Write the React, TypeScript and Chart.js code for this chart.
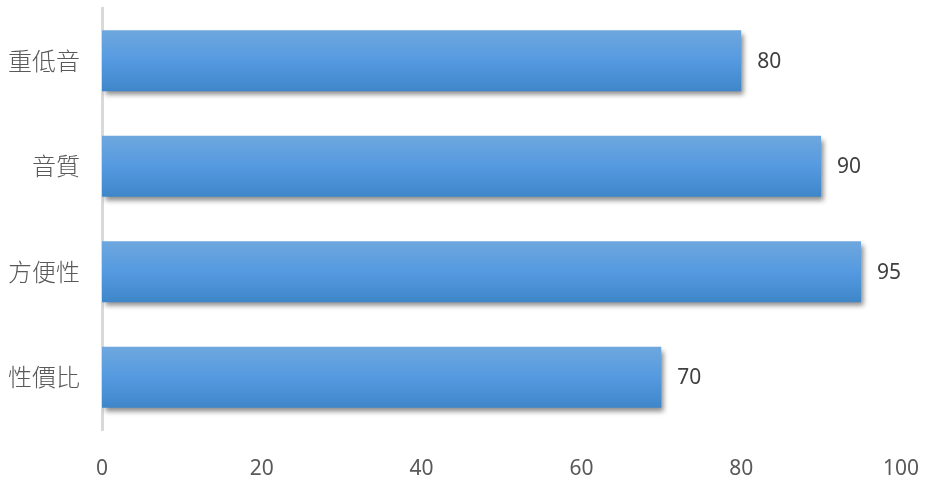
import React, { useEffect, useRef } from "react";
import { Chart, registerables } from "chart.js";

Chart.register(...registerables);

const categories = ["重低音", "音質", "方便性", "性價比"];
const values = [80, 90, 95, 70];
const xTicks = [0, 20, 40, 60, 80, 100];

const BAR_PCT = 0.58;

const shadowPlugin = {
  id: "barShadow",
  beforeDatasetsDraw(chart: any) {
    const ctx = chart.ctx;
    ctx.save();
    ctx.shadowColor = "rgba(0,0,0,0.45)";
    ctx.shadowBlur = 5;
    ctx.shadowOffsetX = 3;
    ctx.shadowOffsetY = 4;
  },
  afterDatasetsDraw(chart: any) {
    chart.ctx.restore();
  },
};

const labelPlugin = {
  id: "valueLabels",
  afterDatasetsDraw(chart: any) {
    const ctx = chart.ctx;
    const meta = chart.getDatasetMeta(0);
    ctx.save();
    ctx.shadowColor = "transparent";
    ctx.font = "21px 'Noto Sans', 'Open Sans', sans-serif";
    ctx.fillStyle = "#404040";
    ctx.textAlign = "left";
    ctx.textBaseline = "middle";
    meta.data.forEach((el: any, i: number) => {
      ctx.fillText(String(values[i]), el.x + 16, el.y + 1);
    });
    ctx.restore();
  },
};

export default function App() {
  const ref = useRef<HTMLCanvasElement>(null);
  useEffect(() => {
    document.body.style.margin = "0";
    const chart = new Chart(ref.current!, {
      type: "bar",
      data: {
        labels: categories,
        datasets: [
          {
            data: values,
            backgroundColor: (c: any) => {
              const chart = c.chart;
              const area = chart.chartArea;
              if (!area || !chart.scales.y) return "#5597d9";
              const center = chart.scales.y.getPixelForValue(c.dataIndex);
              const half = ((area.bottom - area.top) / categories.length) * BAR_PCT / 2;
              const g = chart.ctx.createLinearGradient(0, center - half, 0, center + half);
              g.addColorStop(0, "#6ea7de");
              g.addColorStop(0.5, "#559ae0");
              g.addColorStop(1, "#3f86c9");
              return g;
            },
            borderWidth: 0,
            categoryPercentage: 1,
            barPercentage: BAR_PCT,
          },
        ],
      },
      options: {
        indexAxis: "y",
        animation: false,
        responsive: false,
        maintainAspectRatio: false,
        layout: { padding: { top: 8, right: 34, bottom: 0, left: 0 } },
        plugins: { legend: { display: false }, tooltip: { enabled: false } },
        scales: {
          x: {
            min: 0,
            max: 100,
            afterBuildTicks: (s: any) => {
              s.ticks = xTicks.map((v) => ({ value: v }));
            },
            afterFit: (s: any) => {
              s.height = 63;
            },
            grid: { display: false },
            border: { display: false },
            ticks: {
              padding: 18,
              color: "#595959",
              font: { family: "'Noto Sans', 'Open Sans', sans-serif", size: 21 },
            },
          },
          y: {
            afterFit: (s: any) => {
              s.width = 102;
              s.paddingTop = 0;
              s.paddingBottom = 0;
            },
            grid: { display: false },
            border: { display: true, color: "#d9d9d9", width: 3 },
            ticks: {
              padding: 14,
              color: "#595959",
              font: { family: "'Noto Sans CJK TC', sans-serif", size: 24, weight: "300" },
            },
          },
        },
      },
      plugins: [shadowPlugin, labelPlugin],
    } as any);
    return () => chart.destroy();
  }, []);
  return (
    <div style={{ width: 937, height: 493, background: "#fff" }}>
      <canvas ref={ref} width={937} height={493} />
    </div>
  );
}
